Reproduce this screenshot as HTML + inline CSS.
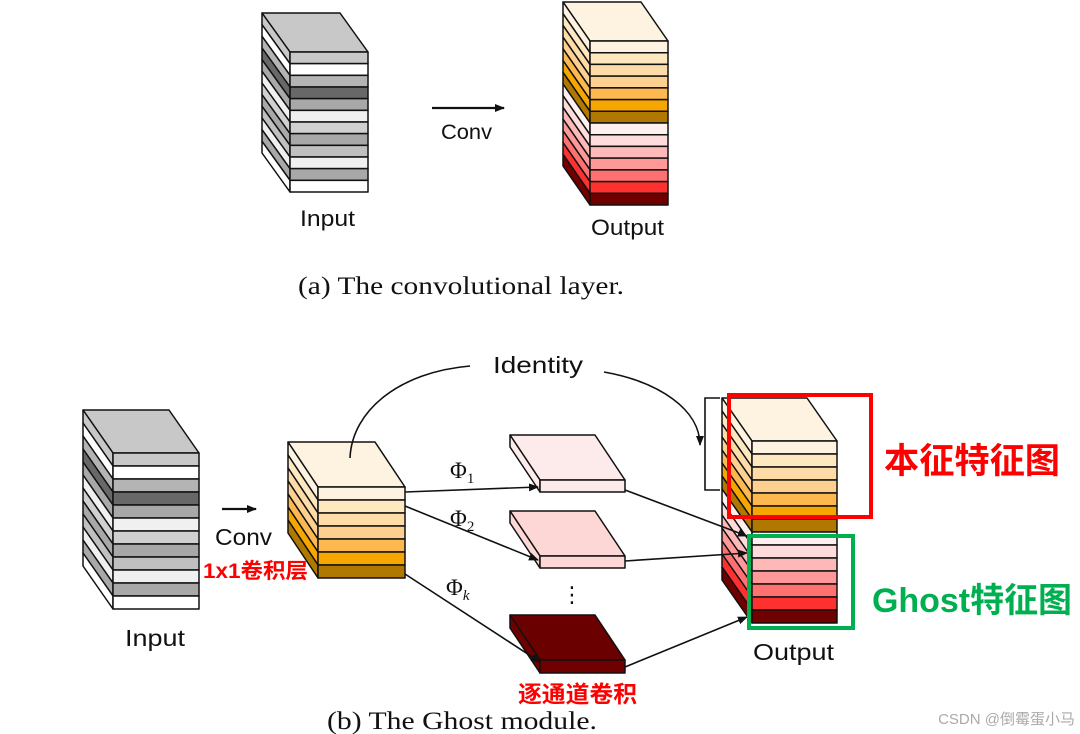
<!DOCTYPE html>
<html><head><meta charset="utf-8"><style>
html,body{margin:0;padding:0;background:#fff}
svg{display:block}
.s{font-family:"Liberation Sans","DejaVu Sans",sans-serif;fill:#111}
.r{font-family:"Liberation Serif",serif;fill:#111}
.cj{font-family:"Liberation Sans","Noto Sans CJK SC",sans-serif;font-weight:bold}
</style></head><body>
<svg id="g" width="1080" height="734" viewBox="0 0 1080 734" xmlns="http://www.w3.org/2000/svg">
<defs><marker id="a" markerWidth="10" markerHeight="8" refX="9" refY="4" orient="auto" markerUnits="userSpaceOnUse"><path d="M0,0 L10,4 L0,8 z" fill="#111"/></marker></defs>
<g id="st"></g>
<g stroke="#111" stroke-width="1.6" fill="none">
<line x1="432" y1="108" x2="504" y2="108" marker-end="url(#a)" stroke-width="2.2"/>
<line x1="222" y1="509" x2="256" y2="509" marker-end="url(#a)" stroke-width="2.2"/>
<line x1="405" y1="492" x2="538" y2="487" marker-end="url(#a)"/>
<line x1="405" y1="506" x2="538" y2="560" marker-end="url(#a)"/>
<line x1="405" y1="574" x2="540" y2="662" marker-end="url(#a)"/>
<line x1="625" y1="490" x2="747" y2="536" marker-end="url(#a)"/>
<line x1="625" y1="561" x2="747" y2="553" marker-end="url(#a)"/>
<line x1="625" y1="667" x2="747" y2="617" marker-end="url(#a)"/>
<path d="M350,458 C352,410 400,372 470,366"/>
<path d="M604,372 C660,382 700,410 700,445" marker-end="url(#a)"/>
<path d="M720,398 L705,398 L705,490 L720,490"/>
</g>
<rect x="729" y="395" width="142" height="122" fill="none" stroke="#ff0000" stroke-width="4"/>
<rect x="749" y="536" width="104" height="92" fill="none" stroke="#00b050" stroke-width="4"/>
<text class="s" x="441" y="139" font-size="21" textLength="51" lengthAdjust="spacingAndGlyphs">Conv</text>
<text class="s" x="300" y="226" font-size="22" textLength="55" lengthAdjust="spacingAndGlyphs">Input</text>
<text class="s" x="591" y="235" font-size="22" textLength="73" lengthAdjust="spacingAndGlyphs">Output</text>
<text class="r" x="298" y="294" font-size="25" textLength="326" lengthAdjust="spacingAndGlyphs">(a)  The convolutional layer.</text>
<text class="s" x="493" y="373" font-size="23" textLength="90" lengthAdjust="spacingAndGlyphs">Identity</text>
<text class="s" x="215" y="545" font-size="23" textLength="57" lengthAdjust="spacingAndGlyphs">Conv</text>
<text class="s" x="125" y="646" font-size="23" textLength="60" lengthAdjust="spacingAndGlyphs">Input</text>
<text class="s" x="753" y="660" font-size="23" textLength="81" lengthAdjust="spacingAndGlyphs">Output</text>
<text class="r" x="450" y="478" font-size="23">Φ<tspan font-size="15" dy="5">1</tspan></text>
<text class="r" x="450" y="526" font-size="23">Φ<tspan font-size="15" dy="5">2</tspan></text>
<text class="r" x="446" y="595" font-size="23">Φ<tspan font-size="15" dy="5" font-style="italic">k</tspan></text>
<text class="s" x="572" y="602" font-size="22" text-anchor="middle">⋮</text>
<text class="cj" x="203" y="578" font-size="21" fill="#ff0000" textLength="105" lengthAdjust="spacingAndGlyphs">1x1卷积层</text>
<text class="cj" x="518" y="702" font-size="23" fill="#ff0000" textLength="119" lengthAdjust="spacingAndGlyphs">逐通道卷积</text>
<text class="cj" x="884" y="473" font-size="35" fill="#ff0000" textLength="176" lengthAdjust="spacingAndGlyphs">本征特征图</text>
<text class="cj" x="872" y="612" font-size="34" fill="#00b050" textLength="200" lengthAdjust="spacingAndGlyphs">Ghost特征图</text>
<text class="r" x="327" y="729" font-size="25" textLength="270" lengthAdjust="spacingAndGlyphs">(b)  The Ghost module.</text>
<text x="1075" y="724" font-size="15" fill="#aaa" text-anchor="end" font-family="Liberation Sans,Noto Sans CJK SC,sans-serif">CSDN @倒霉蛋小马</text>
</svg>
<script>
var g=document.getElementById('st'),NS='http://www.w3.org/2000/svg';
function p(pts,f){var e=document.createElementNS(NS,'polygon');e.setAttribute('points',pts.map(function(q){return q.join(',')}).join(' '));e.setAttribute('fill',f);e.setAttribute('stroke','#111');e.setAttribute('stroke-width','1.5');e.setAttribute('stroke-linejoin','round');g.appendChild(e);}
function stack(x,y,w,h,dx,dy,cols,top){var n=cols.length,sh=h/n;
p([[x,y],[x+w,y],[x+w+dx,y+dy],[x+dx,y+dy]],top);
for(var i=0;i<n;i++){var y0=y+i*sh,y1=y0+sh;
p([[x+dx,y0+dy],[x,y0],[x,y1],[x+dx,y1+dy]],cols[i]);
p([[x,y0],[x+w,y0],[x+w,y1],[x,y1]],cols[i]);}}
var gr=['#c8c8c8','#fff','#b4b4b4','#686868','#a8a8a8','#f0f0f0','#d0d0d0','#a8a8a8','#c0c0c0','#f0f0f0','#a8a8a8','#fff'];
var or=['#fdf3e0','#fde8c0','#fddca8','#fdd090','#fdb850','#f6a600','#b07800'];
var rd=['#fff0f0','#ffdcdc','#ffb8b8','#ff9898','#ff7070','#ff3030','#700000'];
stack(290,52,78,140,-28,-39,gr,'#c8c8c8');
stack(590,41,78,164,-27,-39,or.concat(rd),'#fdf3e0');
stack(113,453,86,156,-30,-43,gr,'#c8c8c8');
stack(318,487,87,91,-30,-45,or,'#fdf3e0');
stack(752,441,85,182,-30,-43,or.concat(rd),'#fdf3e0');
stack(540,480,85,12,-30,-45,['#fdeaea'],'#fdeaea');
stack(540,556,85,12,-30,-45,['#fdd6d6'],'#fdd6d6');
stack(540,660,85,13,-30,-45,['#700000'],'#6a0000');
</script>
</body></html>
